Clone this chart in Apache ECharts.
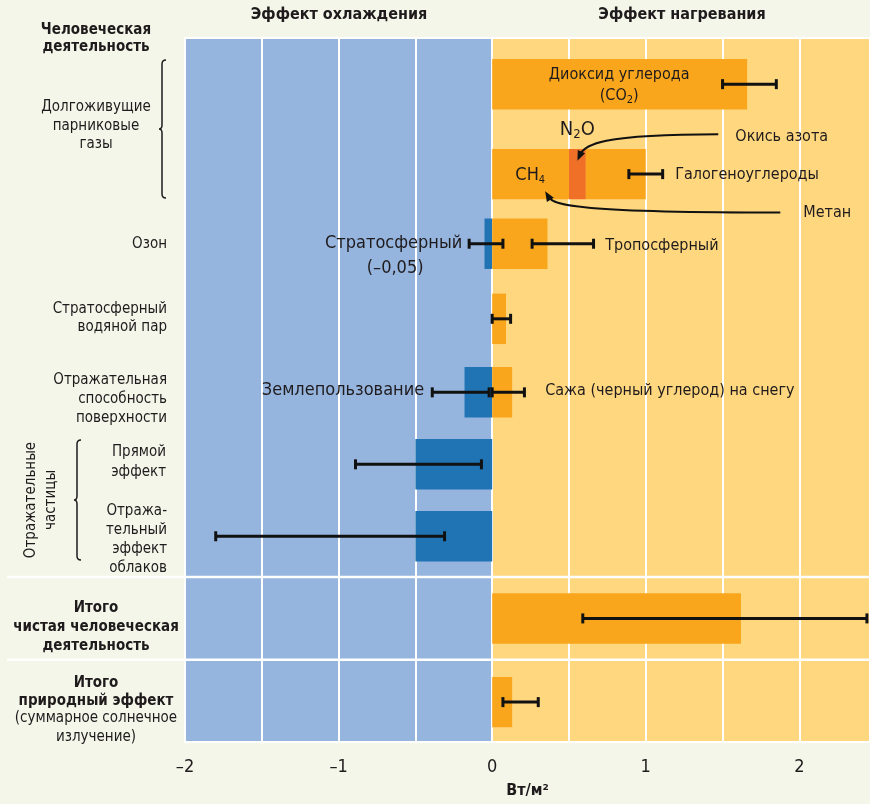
<!DOCTYPE html>
<html>
<head>
<meta charset="utf-8">
<title>Радиационный форсинг</title>
<script src="https://cdn.jsdelivr.net/npm/echarts@6/dist/echarts.min.js"></script>
<style>
  html, body { margin: 0; padding: 0; background: #f3f6e9; }
  #chart { width: 870px; height: 804px; }
</style>
</head>
<body>
<div id="chart"></div>
<script>
// строки графика сверху вниз и их положение по оси Y (0..9)
var rowNames = ['CO2', 'CH4 + N2O + галогеноуглероды', 'Озон', 'Водяной пар', 'Альбедо', 'Прямой эффект', 'Облака', 'Итого', 'Солнце']
var rowPos = [0.59, 1.74, 2.63, 3.59, 4.53, 5.45, 6.37, 7.42, 8.49]

// отрезки столбцов, Вт/м2
var segRow  = [0, 1, 1, 1, 2, 2, 3, 4, 4, 5, 6, 7, 8]
var segFrom = [0, 0, 0.50, 0.61, -0.05, 0, 0, -0.18, 0, -0.50, -0.50, 0, 0]
var segTo   = [1.66, 0.50, 0.61, 1.00, 0, 0.36, 0.09, 0, 0.13, 0, 0, 1.62, 0.13]
var segKind = ['warm', 'warm', 'n2o', 'warm', 'cool', 'warm', 'warm', 'cool', 'warm', 'cool', 'cool', 'warm', 'warm']

// интервалы неопределенности
var errRow  = [0, 1, 2, 2, 3, 4, 4, 5, 6, 7, 8]
var errLow  = [1.50, 0.89, -0.15, 0.26, 0.00, -0.39, 0.00, -0.89, -1.80, 0.59, 0.07]
var errHigh = [1.85, 1.11, 0.07, 0.66, 0.12, -0.02, 0.21, -0.07, -0.31, 2.44, 0.30]

// подписи оси X
var xTicks = [-2, -1, 0, 1, 2]
var xTickLabels = ['–2', '–1', '0', '1', '2']

// разделители блоков «Итого»
var sepPos = [6.89, 7.95]

var FONT = "'Liberation Sans Narrow', 'DejaVu Sans Condensed', 'Roboto Condensed', 'Arial Narrow', sans-serif"
var INK = '#1f1b1c'
var colors = { warm: '#f9a61c', n2o: '#f07027', cool: '#2174b4' }

var chart = echarts.init(document.getElementById('chart'))

var segData = segRow.map(function (r, i) {
  return [segFrom[i], segTo[i], rowPos[r], segKind[i]]
})
var errData = errRow.map(function (r, i) {
  return [errLow[i], errHigh[i], rowPos[r]]
})

// подписи внутри поля графика: x, y, текст, размер, выравнивание
var notes = [
  [0.827, 0.47, 'Диоксид углерода', 16, 'center'],
  [0.827, 0.74, '(CO{s|2})', 16, 'center'],
  [0.554, 1.17, 'N{b|2}O', 20, 'center'],
  [0.248, 1.76, 'CH{s|4}', 18, 'center'],
  [1.583, 1.27, 'Окись азота', 16, 'left'],
  [1.192, 1.75, 'Галогеноуглероды', 16, 'left'],
  [2.026, 2.24, 'Метан', 16, 'left'],
  [-0.195, 2.63, 'Стратосферный', 18, 'right'],
  [-0.632, 2.94, '(–0,05)', 18, 'center'],
  [0.736, 2.66, 'Тропосферный', 16, 'left'],
  [-0.443, 4.51, 'Землепользование', 18, 'right'],
  [0.345, 4.51, 'Сажа (черный углерод) на снегу', 16, 'left']
]

// выноски-стрелки: начало, две опорные точки, конец
var arrows = [
  [1.472, 1.23, 0.70, 1.23, 0.60, 1.37, 0.555, 1.57],
  [1.876, 2.23, 0.57, 2.23, 0.40, 2.14, 0.345, 1.96]
]

// фигурные скобки слева (x, верх, низ в пикселях)
var braces = [[162, 60, 198], [77, 440, 560]]

function brace (x, y1, y2) {
  var ym = (y1 + y2) / 2
  return 'M' + (x + 4) + ' ' + y1 + ' Q' + x + ' ' + y1 + ' ' + x + ' ' + (y1 + 4) +
    ' L' + x + ' ' + (ym - 4) + ' Q' + x + ' ' + ym + ' ' + (x - 3) + ' ' + ym +
    ' Q' + x + ' ' + ym + ' ' + x + ' ' + (ym + 4) +
    ' L' + x + ' ' + (y2 - 4) + ' Q' + x + ' ' + y2 + ' ' + (x + 4) + ' ' + y2
}

function txt (x, y, text, opt) {
  opt = opt || {}
  return {
    type: 'text', x: x, y: y, z: 10,
    rotation: opt.rotation || 0,
    style: {
      text: text,
      fill: INK,
      fontFamily: FONT,
      fontSize: opt.size || 15,
      fontWeight: opt.bold ? 'bold' : 'normal',
      align: opt.align || 'right',
      verticalAlign: 'middle',
      lineHeight: opt.lh || 19
    }
  }
}

var graphics = [
  txt(339, 15, 'Эффект охлаждения', { bold: true, size: 16, align: 'center' }),
  txt(682, 15, 'Эффект нагревания', { bold: true, size: 16, align: 'center' }),
  txt(96, 39, 'Человеческая\nдеятельность', { bold: true, align: 'center', lh: 17 }),
  txt(96, 126, 'Долгоживущие\nпарниковые\nгазы', { align: 'center', lh: 18.5 }),
  txt(167, 244, 'Озон'),
  txt(167, 318, 'Стратосферный\nводяной пар', { lh: 18.5 }),
  txt(167, 399, 'Отражательная\nспособность\nповерхности', { lh: 19 }),
  txt(166, 462, 'Прямой\nэффект', { lh: 20 }),
  txt(167, 540, 'Отража-\nтельный\nэффект\nоблаков', { lh: 19 }),
  txt(31, 500, 'Отражательные', { align: 'center', rotation: Math.PI / 2 }),
  txt(51, 500, 'частицы', { align: 'center', rotation: Math.PI / 2 }),
  txt(96, 627, 'Итого\nчистая человеческая\nдеятельность', { bold: true, align: 'center', lh: 19 }),
  txt(96, 692, 'Итого\nприродный эффект', { bold: true, align: 'center', lh: 17.5 }),
  txt(96, 728, '(суммарное солнечное\nизлучение)', { align: 'center', lh: 19 })
]

var option = {
  backgroundColor: '#f3f6e9',
  animation: false,
  grid: { left: 185, right: 0, top: 38, height: 704, containLabel: false },
  xAxis: {
    type: 'value',
    min: -2,
    max: 2.46,
    interval: 0.5,
    z: 1,
    axisLine: { show: false },
    axisTick: { show: false },
    splitLine: { show: true, lineStyle: { color: '#ffffff', width: 2 } },
    axisLabel: {
      showMaxLabel: false,
      margin: 16,
      fontFamily: FONT,
      fontSize: 18,
      color: INK,
      formatter: function (v) {
        var i = xTicks.indexOf(v)
        return i >= 0 ? xTickLabels[i] : ''
      }
    },
    name: 'Вт/м²',
    nameLocation: 'middle',
    nameGap: 41,
    nameTextStyle: { fontFamily: FONT, fontSize: 16, fontWeight: 'bold', color: INK }
  },
  yAxis: {
    type: 'value', min: 0, max: 9, inverse: true, show: false
  },
  graphic: { elements: graphics },
  series: [
    {
      // фон: охлаждение / нагревание
      type: 'custom',
      z: 0,
      silent: true,
      data: [[0, 0]],
      renderItem: function (params, api) {
        var cs = params.coordSys
        var x0 = api.coord([0, 0])[0]
        return {
          type: 'group',
          children: [
            { type: 'rect', shape: { x: cs.x, y: cs.y, width: x0 - cs.x, height: cs.height }, style: { fill: '#95b5df' } },
            { type: 'rect', shape: { x: x0, y: cs.y, width: cs.x + cs.width - x0, height: cs.height }, style: { fill: '#ffd77f' } },
            { type: 'rect', shape: { x: cs.x, y: cs.y, width: cs.width + 2, height: cs.height }, style: { fill: 'none', stroke: '#ffffff', lineWidth: 2 } }
          ]
        }
      }
    },
    {
      // разделители
      type: 'custom',
      z: 3,
      silent: true,
      data: sepPos.map(function (p) { return [0, p] }),
      renderItem: function (params, api) {
        var cs = params.coordSys
        var y = api.coord([0, api.value(1)])[1]
        return { type: 'line', shape: { x1: 7, y1: y, x2: cs.x + cs.width, y2: y }, style: { stroke: '#ffffff', lineWidth: 2.5 } }
      }
    },
    {
      // скобки
      type: 'custom',
      z: 3,
      silent: true,
      data: braces,
      renderItem: function (params, api) {
        var b = braces[params.dataIndex]
        return { type: 'path', shape: { pathData: brace(b[0], b[1], b[2]) }, style: { fill: 'none', stroke: INK, lineWidth: 1.5 } }
      }
    },
    {
      type: 'custom',
      name: 'Столбцы',
      z: 4,
      encode: { x: [0, 1], y: 2 },
      data: segData,
      renderItem: function (params, api) {
        var a = api.coord([api.value(0), api.value(2)])
        var b = api.coord([api.value(1), api.value(2)])
        var h = api.size([0, 0.645])[1]
        var kind = segData[params.dataIndex][3]
        return { type: 'rect', shape: { x: a[0], y: a[1] - h / 2, width: b[0] - a[0], height: h }, style: { fill: colors[kind] } }
      }
    },
    {
      type: 'custom',
      name: 'Неопределенность',
      z: 5,
      encode: { x: [0, 1], y: 2 },
      data: errData,
      renderItem: function (params, api) {
        var a = api.coord([api.value(0), api.value(2)])
        var b = api.coord([api.value(1), api.value(2)])
        var st = { stroke: '#111111', lineWidth: 3 }
        return {
          type: 'group',
          children: [
            { type: 'line', shape: { x1: a[0], y1: a[1], x2: b[0], y2: b[1] }, style: st },
            { type: 'line', shape: { x1: a[0], y1: a[1] - 5, x2: a[0], y2: a[1] + 5 }, style: st },
            { type: 'line', shape: { x1: b[0], y1: b[1] - 5, x2: b[0], y2: b[1] + 5 }, style: st }
          ]
        }
      }
    },
    {
      type: 'custom',
      name: 'Подписи',
      z: 6,
      silent: true,
      data: notes,
      renderItem: function (params, api) {
        var n = notes[params.dataIndex]
        var p = api.coord([n[0], n[1]])
        return {
          type: 'text', x: p[0], y: p[1],
          style: {
            text: n[2], fill: INK, fontFamily: FONT, fontSize: n[3],
            align: n[4], verticalAlign: 'middle',
            rich: {
              s: { fontFamily: FONT, fontSize: 11, fill: INK, padding: [9, 0, 0, 0] },
              b: { fontFamily: FONT, fontSize: 13, fill: INK, padding: [10, 0, 0, 0] }
            }
          }
        }
      }
    },
    {
      type: 'custom',
      name: 'Стрелки',
      z: 7,
      silent: true,
      data: arrows,
      renderItem: function (params, api) {
        var d = arrows[params.dataIndex]
        var p0 = api.coord([d[0], d[1]])
        var c1 = api.coord([d[2], d[3]])
        var c2 = api.coord([d[4], d[5]])
        var p1 = api.coord([d[6], d[7]])
        var dx = p1[0] - c2[0], dy = p1[1] - c2[1]
        var len = Math.sqrt(dx * dx + dy * dy)
        dx /= len; dy /= len
        var L = 10, W = 4
        var bx = p1[0] - dx * L, by = p1[1] - dy * L
        return {
          type: 'group',
          children: [
            { type: 'bezierCurve', shape: { x1: p0[0], y1: p0[1], cpx1: c1[0], cpy1: c1[1], cpx2: c2[0], cpy2: c2[1], x2: bx + dx * 3, y2: by + dy * 3 }, style: { stroke: '#111111', lineWidth: 2, fill: 'none' } },
            { type: 'polygon', shape: { points: [p1, [bx - dy * W, by + dx * W], [bx + dy * W, by - dx * W]] }, style: { fill: '#111111' } }
          ]
        }
      }
    }
  ]
}

chart.setOption(option)

window.addEventListener('resize', function () {
  chart.resize()
})
</script>
</body>
</html>
